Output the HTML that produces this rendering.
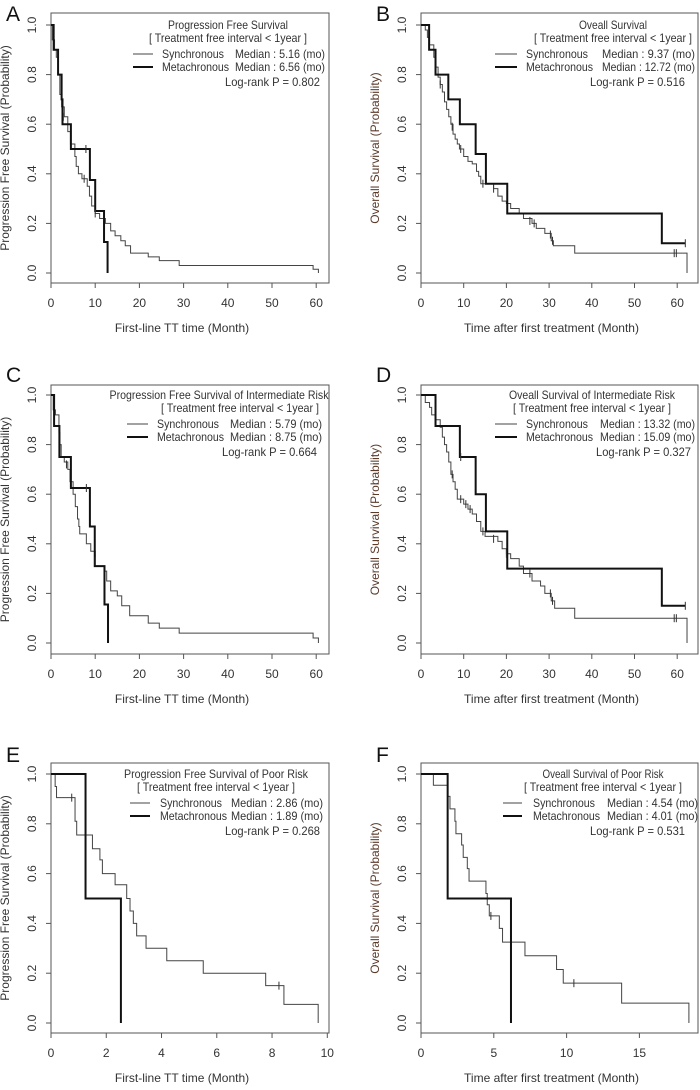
<!DOCTYPE html>
<html><head><meta charset="utf-8"><style>
html,body{margin:0;padding:0;background:#fff;}
svg{display:block;font-family:"Liberation Sans",Arial,sans-serif;}
</style></head><body>
<svg id="fig" width="700" height="1090" viewBox="0 0 700 1090"></svg>
<script>
// ---- data: [time (months), survival after step] ----
const syncA = [[0,1],[0.3,0.94],[0.8,0.9],[1.2,0.87],[1.6,0.8],[2,0.72],[2.4,0.67],[3,0.63],[3.8,0.57],[4.4,0.52],[5.4,0.47],[5.7,0.43],[6.2,0.4],[7,0.38],[8.2,0.35],[8.7,0.31],[9.2,0.27],[10,0.24],[11,0.22],[12.3,0.2],[13.5,0.17],[14.5,0.15],[15.8,0.13],[16.8,0.11],[18,0.08],[22,0.065],[24.5,0.05],[29,0.03],[59.3,0.015],[60.5,0]];
const metaA = [[0,1],[0.6,0.9],[1.6,0.8],[2.4,0.7],[2.6,0.6],[4.5,0.5],[8.8,0.375],[10,0.25],[12,0.125],[12.8,0]];
const censA = [[2.8,0.63],[7.5,0.38],[10,0.24],[7.9,0.5]];
const syncB = [[0,1],[1,0.98],[1.5,0.95],[2,0.92],[3,0.87],[3.5,0.83],[4,0.79],[4.5,0.76],[5,0.73],[5.5,0.69],[6,0.66],[6.5,0.63],[7,0.6],[7.5,0.56],[8,0.54],[8.5,0.52],[9,0.5],[10,0.47],[11,0.45],[12,0.44],[13,0.41],[13.5,0.39],[14,0.36],[17,0.34],[18,0.31],[19,0.29],[20,0.28],[21,0.26],[23,0.24],[24,0.22],[26,0.2],[27,0.18],[29,0.16],[30.5,0.13],[31,0.11],[36,0.08],[62.3,0]];
const metaB = [[0,1],[1.9,0.9],[3.4,0.8],[6.4,0.7],[9.1,0.6],[12.8,0.48],[15.2,0.36],[20.2,0.24],[56.4,0.12],[61.9,0.12]];
const censB = [[4.5,0.76],[7.3,0.59],[9.3,0.5],[14.5,0.36],[17,0.34],[25.5,0.21],[26.5,0.2],[30.3,0.155],[30.8,0.13],[59.3,0.08],[59.8,0.08],[61.9,0.12]];
const syncC = [[0,1],[0.5,0.94],[1,0.92],[1.8,0.85],[2,0.8],[2.3,0.75],[3,0.73],[3.8,0.7],[4.3,0.65],[5,0.6],[5.5,0.55],[6,0.5],[6.3,0.47],[6.5,0.44],[8,0.4],[9,0.37],[10,0.31],[12,0.29],[12.6,0.25],[13.5,0.21],[15,0.19],[16,0.15],[17.8,0.11],[22,0.08],[24.5,0.06],[29,0.04],[59.3,0.02],[60.5,0]];
const metaC = [[0,1],[0.7,0.875],[1.9,0.75],[4.5,0.625],[8.8,0.47],[9.9,0.31],[12.1,0.155],[12.9,0]];
const censC = [[3.5,0.72],[8,0.625],[10,0.33]];
const syncD = [[0,1],[1,0.97],[2,0.95],[2.5,0.92],[3.5,0.9],[4.5,0.87],[5,0.83],[5.5,0.8],[6,0.77],[6.5,0.73],[7,0.68],[7.5,0.65],[8,0.62],[8.5,0.58],[10,0.56],[11,0.54],[12,0.52],[13,0.49],[14,0.45],[15,0.43],[18,0.41],[19,0.38],[20,0.36],[21,0.34],[23,0.31],[24,0.28],[26,0.25],[28,0.23],[29,0.2],[30.5,0.17],[31.3,0.14],[36,0.1],[62.3,0]];
const metaD = [[0,1],[3.4,0.875],[9.1,0.75],[12.8,0.6],[15.2,0.45],[20.2,0.3],[56.4,0.15],[61.9,0.15]];
const censD = [[7.3,0.68],[9.3,0.58],[10.5,0.56],[11.5,0.54],[14.5,0.45],[17,0.42],[20,0.36],[25.5,0.28],[30.3,0.2],[30.8,0.17],[59.3,0.1],[59.8,0.1],[61.9,0.15],[9.3,0.75]];
const syncE = [[0,1],[0.15,0.95],[0.2,0.905],[0.87,0.81],[0.93,0.755],[1.5,0.7],[1.77,0.655],[1.86,0.6],[2.32,0.555],[2.74,0.5],[2.86,0.45],[2.98,0.4],[3.1,0.35],[3.44,0.3],[4.19,0.25],[5.51,0.2],[7.77,0.15],[8.43,0.075],[9.67,0]];
const metaE = [[0,1],[1.25,0.5],[2.53,0]];
const censE = [[0.75,0.905],[8.25,0.15]];
const syncF = [[0,1],[0.85,0.955],[1.83,0.91],[1.99,0.86],[2.33,0.81],[2.4,0.76],[2.79,0.715],[2.9,0.665],[3.18,0.62],[3.3,0.57],[4.46,0.52],[4.55,0.475],[4.69,0.43],[5.38,0.38],[5.6,0.325],[7.14,0.27],[9.31,0.215],[9.77,0.16],[13.78,0.08],[18.4,0]];
const metaF = [[0,1],[1.83,0.5],[6.18,0]];
const censF = [[4.8,0.43],[10.5,0.16]];
const yTicks = [0,0.2,0.4,0.6,0.8,1.0];
const xTicksLong = [0,10,20,30,40,50,60];
const xTicksE = [0,2,4,6,8,10];
const xTicksF = [0,5,10,15];

const NS="http://www.w3.org/2000/svg";
const svg=document.getElementById('fig');
function mk(tag,attrs,parent,txt){const e=document.createElementNS(NS,tag);for(const k in attrs)e.setAttribute(k,attrs[k]);if(txt!==undefined)e.textContent=txt;(parent||svg).appendChild(e);return e;}

const panels=[
 {id:'a',L:'A',lx:6,ly:21,box:[51,13,329,283],x0:51,xs:4.42,y1:25,y0:273,xt:xTicksLong,sync:syncA,meta:metaA,cens:censA,
  ytitle:'Progression Free Survival (Probability)',ytc:'#333',xtitle:'First-line TT time (Month)',
  leg:{t1:'Progression Free Survival',tw:120,tc:228,t2c:228,ty:29,s0:133,s1:153,st:162,me:325,mw:90,le:320,med1:'Median : 5.16 (mo)',med2:'Median : 6.56 (mo)',p:'Log-rank P  = 0.802'}},
 {id:'b',L:'B',lx:376,ly:21,box:[421,13,698,283],x0:421,xs:4.27,y1:25,y0:273,xt:xTicksLong,sync:syncB,meta:metaB,cens:censB,
  ytitle:'Overall Survival (Probability)',ytc:'#5b3a2a',xtitle:'Time after first treatment (Month)',
  leg:{t1:'Oveall Survival',tw:68,tc:613,t2c:613,ty:29,s0:495,s1:517,st:526,me:695,mw:93,le:685,med1:'Median :  9.37 (mo)',med2:'Median : 12.72 (mo)',p:'Log-rank P  = 0.516'}},
 {id:'c',L:'C',lx:6,ly:382,box:[51,385,329,654],x0:51,xs:4.42,y1:395,y0:643,xt:xTicksLong,sync:syncC,meta:metaC,cens:censC,
  ytitle:'Progression Free Survival (Probability)',ytc:'#333',xtitle:'First-line TT time (Month)',
  leg:{t1:'Progression Free Survival of Intermediate Risk',tw:219,tc:219,t2c:240,ty:399,s0:127,s1:148,st:157,me:322,mw:92,le:317,med1:'Median : 5.79 (mo)',med2:'Median : 8.75 (mo)',p:'Log-rank P  = 0.664'}},
 {id:'d',L:'D',lx:376,ly:382,box:[421,385,698,654],x0:421,xs:4.27,y1:395,y0:643,xt:xTicksLong,sync:syncD,meta:metaD,cens:censD,
  ytitle:'Overall Survival (Probability)',ytc:'#5b3a2a',xtitle:'Time after first treatment (Month)',
  leg:{t1:'Oveall Survival of Intermediate Risk',tw:166,tc:592,t2c:592,ty:399,s0:495,s1:517,st:526,me:695,mw:95,le:691,med1:'Median : 13.32 (mo)',med2:'Median : 15.09 (mo)',p:'Log-rank P  = 0.327'}},
 {id:'e',L:'E',lx:6,ly:762,box:[51,763,329,1033],x0:51,xs:27.63,y1:774,y0:1023,xt:xTicksE,sync:syncE,meta:metaE,cens:censE,
  ytitle:'Progression Free Survival (Probability)',ytc:'#333',xtitle:'First-line TT time (Month)',
  leg:{t1:'Progression Free Survival of Poor Risk',tw:184,tc:216,t2c:216,ty:778,s0:130,s1:150,st:160,me:323,mw:92,le:320,med1:'Median : 2.86 (mo)',med2:'Median : 1.89 (mo)',p:'Log-rank P  =  0.268'}},
 {id:'f',L:'F',lx:376,ly:762,box:[421,763,698,1033],x0:421,xs:14.56,y1:774,y0:1023,xt:xTicksF,sync:syncF,meta:metaF,cens:censF,
  ytitle:'Overall Survival (Probability)',ytc:'#5b3a2a',xtitle:'Time after first treatment (Month)',
  leg:{t1:'Oveall Survival of Poor Risk',tw:121,tc:603,t2c:603,ty:778,s0:503,s1:522,st:533,me:698,mw:91,le:685,med1:'Median : 4.54 (mo)',med2:'Median : 4.01 (mo)',p:'Log-rank P  = 0.531'}}
];

function stepPath(pts,X,Y){let d='M'+X(pts[0][0])+','+Y(pts[0][1]);for(let i=1;i<pts.length;i++){d+=' H'+X(pts[i][0])+' V'+Y(pts[i][1]);}return d;}

panels.forEach(p=>{
 const g=mk('g',{});
 
 
 const X=t=>p.x0+t*p.xs, Y=v=>p.y0+(p.y1-p.y0)*v;
 const [bx0,by0,bx1,by1]=p.box;
 const lab=mk('text',{x:p.lx,y:p.ly,'font-size':21,fill:'#111'},g,p.L);
 
 
 const box=mk('rect',{x:bx0,y:by0,width:bx1-bx0,height:by1-by0,fill:'none',stroke:'#555','stroke-width':1},g);
 
 
 yTicks.forEach(v=>{
  const yy=Y(v);
  const tk=mk('line',{x1:bx0,x2:bx0-5,y1:yy,y2:yy,stroke:'#555'},g);
  
  
  const tx=mk('text',{x:bx0-15,y:yy,'font-size':12,fill:'#333','text-anchor':'middle',transform:'rotate(-90 '+(bx0-15)+' '+yy+')'},g,v.toFixed(1));
  
  
 });
 p.xt.forEach(v=>{
  const xx=X(v);
  const tk=mk('line',{x1:xx,x2:xx,y1:by1,y2:by1+5,stroke:'#555'},g);
  
  
  const tx=mk('text',{x:xx,y:by1+24,'font-size':12,fill:'#333','text-anchor':'middle'},g,String(v));
  
  
 });
 const yt=mk('text',{x:bx0-42,y:(by0+by1)/2,'font-size':12,fill:p.ytc,'text-anchor':'middle',transform:'rotate(-90 '+(bx0-42)+' '+((by0+by1)/2)+')'},g,p.ytitle);
 
 
 const xtt=mk('text',{x:(bx0+bx1)/2-8,y:by1+49,'font-size':12,fill:'#333','text-anchor':'middle'},g,p.xtitle);
 
 
 const s=mk('path',{d:stepPath(p.sync,X,Y),fill:'none',stroke:'#444','stroke-width':1},g);
 
 
 const m=mk('path',{d:stepPath(p.meta,X,Y),fill:'none',stroke:'#111','stroke-width':2},g);
 
 
 p.cens.forEach(c=>{
  const cx=X(c[0]),cy=Y(c[1]);
  const cm=mk('path',{d:'M'+cx+','+(cy-4)+' V'+(cy+4),stroke:'#333','stroke-width':1},g);
  
  
 });
 const L=p.leg, ty=L.ty;
 const lg=mk('g',{'font-size':12,fill:'#333'},g);
 
 
 mk('text',{x:L.tc-L.tw/2,y:ty,textLength:L.tw,lengthAdjust:'spacingAndGlyphs'},lg,L.t1);
 mk('text',{x:L.t2c-79,y:ty+13,textLength:158,lengthAdjust:'spacingAndGlyphs'},lg,'[ Treatment free interval < 1year ]');
 const l1=mk('line',{x1:L.s0,x2:L.s1,y1:ty+25,y2:ty+25,stroke:'#444','stroke-width':1},lg);
 
 
 const l2=mk('line',{x1:L.s0,x2:L.s1,y1:ty+38,y2:ty+38,stroke:'#111','stroke-width':2},lg);
 
 
 mk('text',{x:L.st,y:ty+29,textLength:62,lengthAdjust:'spacingAndGlyphs'},lg,'Synchronous');
 mk('text',{x:L.st,y:ty+42,textLength:67,lengthAdjust:'spacingAndGlyphs'},lg,'Metachronous');
 mk('text',{x:L.me-L.mw,y:ty+29,textLength:L.mw,lengthAdjust:'spacingAndGlyphs'},lg,L.med1);
 mk('text',{x:L.me-L.mw,y:ty+42,textLength:L.mw,lengthAdjust:'spacingAndGlyphs'},lg,L.med2);
 mk('text',{x:L.le-95,y:ty+57,textLength:95,lengthAdjust:'spacingAndGlyphs'},lg,L.p);
});
</script>
</body></html>
